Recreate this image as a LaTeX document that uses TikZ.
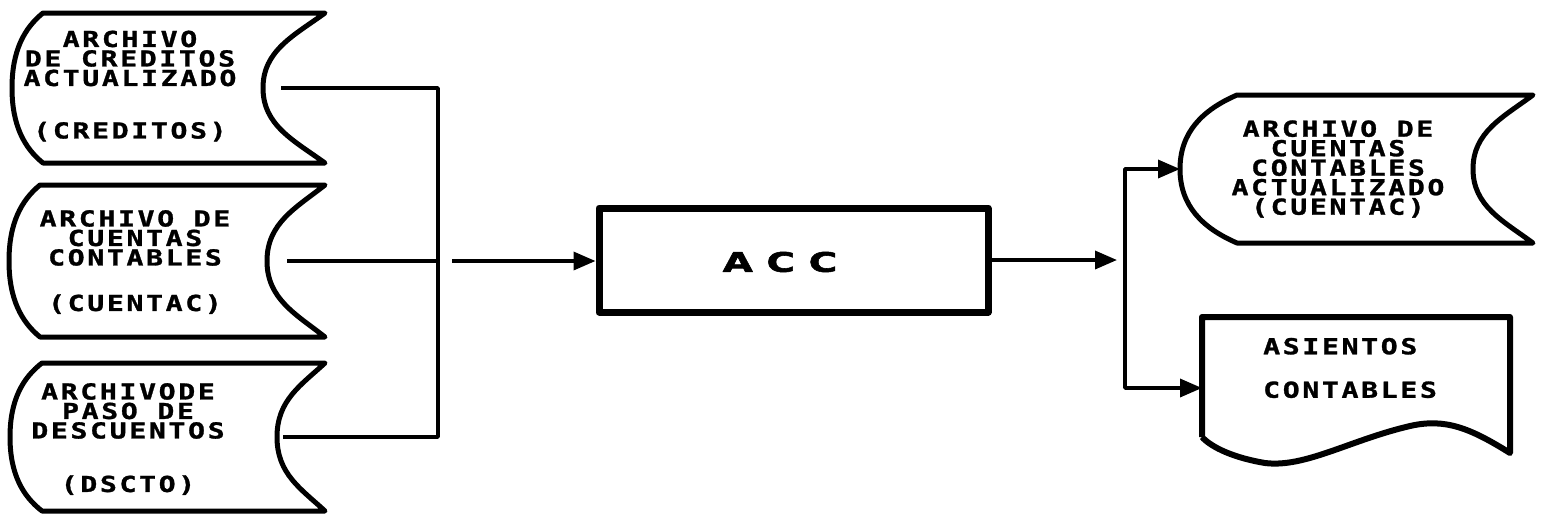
\documentclass[tikz,border=0pt]{standalone}
\usepackage{fontspec}
\usepackage{tikz}
\usetikzlibrary{arrows.meta, positioning}
\newfontfamily\pixfont[FakeStretch=1.28,FakeBold=1.3,LetterSpace=12]{DejaVu Sans Mono Bold}
\newfontfamily\accfont[FakeStretch=1.45,FakeBold=2,LetterSpace=50]{DejaVu Sans Bold}

% stored data outline: name, left x, right x, top y, bottom y, bulge, depth
\newcommand{\datafile}[7]{%
  \draw[outline] (#2,#4) -- (#3,#4)
    .. controls ({#3-0.5*#7},{#4+0.15*(#5-#4)}) and ({#3-#7},{#4+0.25*(#5-#4)}) .. ({#3-#7},{(#4+#5)/2})
    .. controls ({#3-#7},{#5-0.25*(#5-#4)}) and ({#3-0.5*#7},{#5-0.15*(#5-#4)}) .. (#3,#5)
    -- (#2,#5)
    .. controls ({#2-0.6*#6},{#5-0.1*(#5-#4)}) and ({#2-#6},{#5-0.25*(#5-#4)}) .. ({#2-#6},{(#4+#5)/2})
    .. controls ({#2-#6},{#4+0.25*(#5-#4)}) and ({#2-0.6*#6},{#4+0.1*(#5-#4)}) .. (#2,#4) -- cycle;
  \coordinate (#1_in) at ({#2-#6},{(#4+#5)/2});
  \coordinate (#1_out) at ({#3-#7},{(#4+#5)/2});}

\begin{document}
\begin{tikzpicture}[x=1pt,y=-1pt,line join=round]
  \tikzstyle{outline}=[draw,line width=5pt]
  \tikzstyle{link}=[line width=3.5pt]
  \tikzstyle{arrow}=[link,-{Triangle[length=22pt,width=18pt]}]
  \tikzstyle{label}=[font=\pixfont\fontsize{22}{19.5}\selectfont,align=center,inner sep=0pt]
  \tikzstyle{process}=[draw,line width=7pt,minimum width=389pt,minimum height=104pt,inner sep=0pt]

  \useasboundingbox (0,0) rectangle (1543,515);

  % input files
  \datafile{cred}{43}{325}{13}{163}{31}{62}
  \datafile{cuentac}{40}{325}{185}{337}{31}{58}
  \datafile{dscto}{42}{325}{363}{511}{32}{48}
  \node[label] (cred)    at (130,86)  {ARCHIVO\\DE CREDITOS\\ACTUALIZADO\\[33pt](CREDITOS)};
  \node[label] (cuentac) at (135,262) {ARCHIVO DE\\CUENTAS\\CONTABLES\\[26pt](CUENTAC)};
  \node[label] (dscto)   at (128,439) {ARCHIVODE\\PASO DE\\DESCUENTOS\\[34pt](DSCTO)};

  % process
  \node[process] (acc) at (793.5,260) {};
  \node[font=\accfont\fontsize{27}{27}\selectfont,inner sep=0pt] (acc_name) at (780,262) {ACC};

  % output files
  \datafile{cuentac_act}{1237}{1533}{95}{243}{57}{60}
  \node[label] (cuentac_new) at (1338,169)
    {\fontsize{22}{20.5}\selectfont ARCHIVO DE\\CUENTAS\\CONTABLES\\ACTUALIZADO\\(CUENTAC)};
  \draw[outline,line width=6pt] (1202,437) -- (1202,317) -- (1510,317) -- (1510,453)
    .. controls (1470,428) and (1445,418) .. (1410,426)
    .. controls (1350,440) and (1305,468) .. (1265,463)
    .. controls (1235,458) and (1212,448) .. (1202,437);
  \coordinate (asientos_in) at (1202,388);
  \node[label,align=left,anchor=west] (asientos) at (1263,368) {ASIENTOS\\[24pt]CONTABLES};

  % connectors
  \coordinate (bus)   at (438,261);
  \coordinate (split) at (1125,260);
  \draw[link,shorten <=18pt,shorten >=6pt] (cred_out) -| (bus) |- (dscto_out);
  \draw[link,shorten <=20pt] (cuentac_out) -- (cuentac_out -| bus);
  \draw[arrow] ([xshift=14pt]bus) -- ([yshift=-1pt]acc.west);
  \draw[arrow] (acc) -- ([xshift=-8pt]split);
  \draw[arrow] (split) |- (cuentac_act_in);
  \draw[arrow] (split) |- (asientos_in);
\end{tikzpicture}
\end{document}
